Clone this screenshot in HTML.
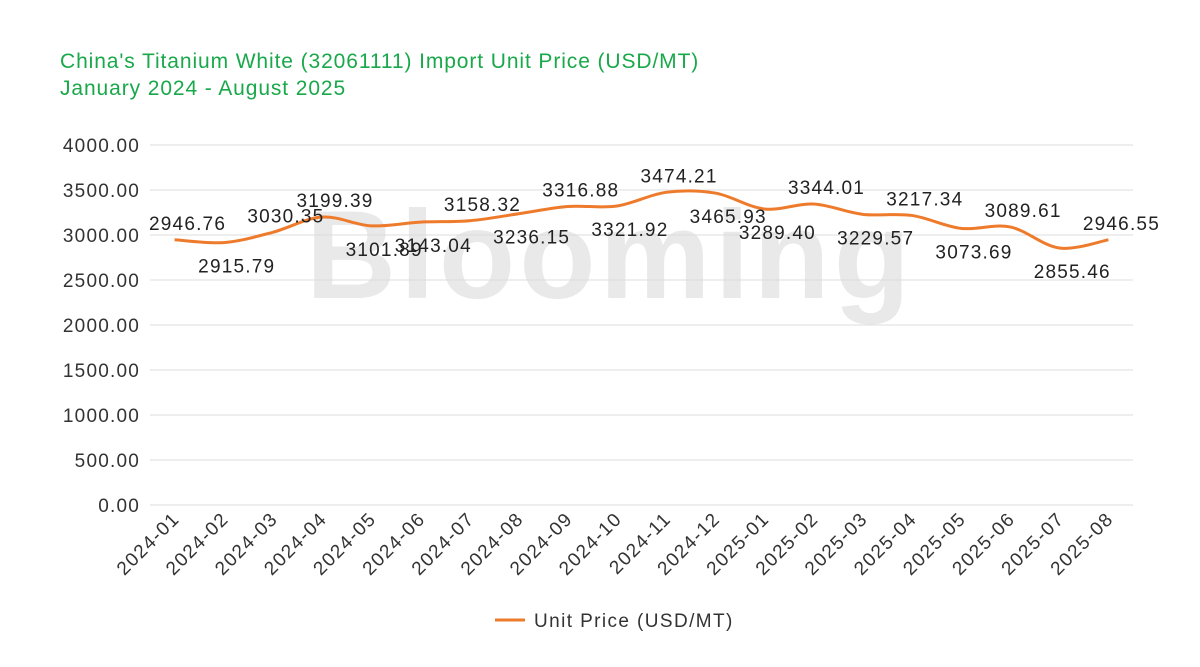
<!DOCTYPE html>
<html><head><meta charset="utf-8"><style>
body{margin:0;background:#fff;}
svg{display:block;font-family:"Liberation Sans",sans-serif;}
</style></head><body>
<svg width="1200" height="667" viewBox="0 0 1200 667">
<text x="60" y="68" font-size="21" letter-spacing="0.9" fill="#19a84a">China's Titanium White (32061111) Import Unit Price (USD/MT)</text>
<text x="60" y="95" font-size="21" letter-spacing="0.9" fill="#19a84a">January 2024 - August 2025</text>
<text x="610" y="298" font-size="125" font-weight="bold" fill="#d4d4d4" opacity="0.5" text-anchor="middle" letter-spacing="4">Blooming</text>
<g id="grid"></g><g id="xl"></g><g id="series"></g>
<line x1="495" y1="620" x2="525" y2="620" stroke="#ee7b2c" stroke-width="3"/>
<text x="534" y="627" font-size="19" letter-spacing="1.4" fill="#333">Unit Price (USD/MT)</text>
</svg>
<script>
const categories=["2024-01","2024-02","2024-03","2024-04","2024-05","2024-06","2024-07","2024-08","2024-09","2024-10","2024-11","2024-12","2025-01","2025-02","2025-03","2025-04","2025-05","2025-06","2025-07","2025-08"];
const values=[2946.76,2915.79,3030.35,3199.39,3101.89,3143.04,3158.32,3236.15,3316.88,3321.92,3474.21,3465.93,3289.40,3344.01,3229.57,3217.34,3073.69,3089.61,2855.46,2946.55];
const labelSide=[1,0,1,1,0,0,1,0,1,0,1,0,0,1,0,1,0,1,0,1];
const yTicks=[0,500,1000,1500,2000,2500,3000,3500,4000];
const NS="http://www.w3.org/2000/svg";
const L=150,R=1133,T=145,B=505;
const bw=(R-L)/categories.length;
const x=i=>L+bw*(i+0.5);
const y=v=>B-(v/4000)*(B-T);
function mk(t,a,p){const e=document.createElementNS(NS,t);for(const k in a)e.setAttribute(k,a[k]);p.appendChild(e);return e;}
const grid=document.getElementById('grid');
yTicks.forEach(v=>{
 const l=mk('line',{x1:L,x2:R,y1:y(v),y2:y(v),stroke:'#dcdcdc','stroke-width':1},grid);
 
 
 const t=mk('text',{x:140,y:y(v)+7,'font-size':19,'letter-spacing':1.2,fill:'#333','text-anchor':'end'},grid);
 t.textContent=v.toFixed(2);
 
 
});
const xl=document.getElementById('xl');
categories.forEach((c,i)=>{
 const px=x(i)+6,py=520;
 const t=mk('text',{x:px,y:py,'font-size':19,'letter-spacing':1.4,fill:'#333','text-anchor':'end',transform:`rotate(-45 ${px} ${py})`},xl);
 t.textContent=c;
 
 
});
const pts=values.map((v,i)=>[x(i),y(v)]);
let d=`M${pts[0][0]},${pts[0][1]}`;
for(let i=0;i<pts.length-1;i++){
 const p0=pts[i-1]||pts[i],p1=pts[i],p2=pts[i+1],p3=pts[i+2]||p2;
 const k=1/6;
 d+=` C${p1[0]+(p2[0]-p0[0])*k},${p1[1]+(p2[1]-p0[1])*k} ${p2[0]-(p3[0]-p1[0])*k},${p2[1]-(p3[1]-p1[1])*k} ${p2[0]},${p2[1]}`;
}
const s=document.getElementById('series');
const path=mk('path',{d:d,fill:'none',stroke:'#ee7b2c','stroke-width':3},s);


values.forEach((v,i)=>{
 const t=mk('text',{x:x(i)+13,y:labelSide[i]?y(v)-10:y(v)+30,'font-size':19,'letter-spacing':1.2,fill:'#222','text-anchor':'middle'},s);
 t.textContent=v.toFixed(2);
 
 
});
</script>
</body></html>
